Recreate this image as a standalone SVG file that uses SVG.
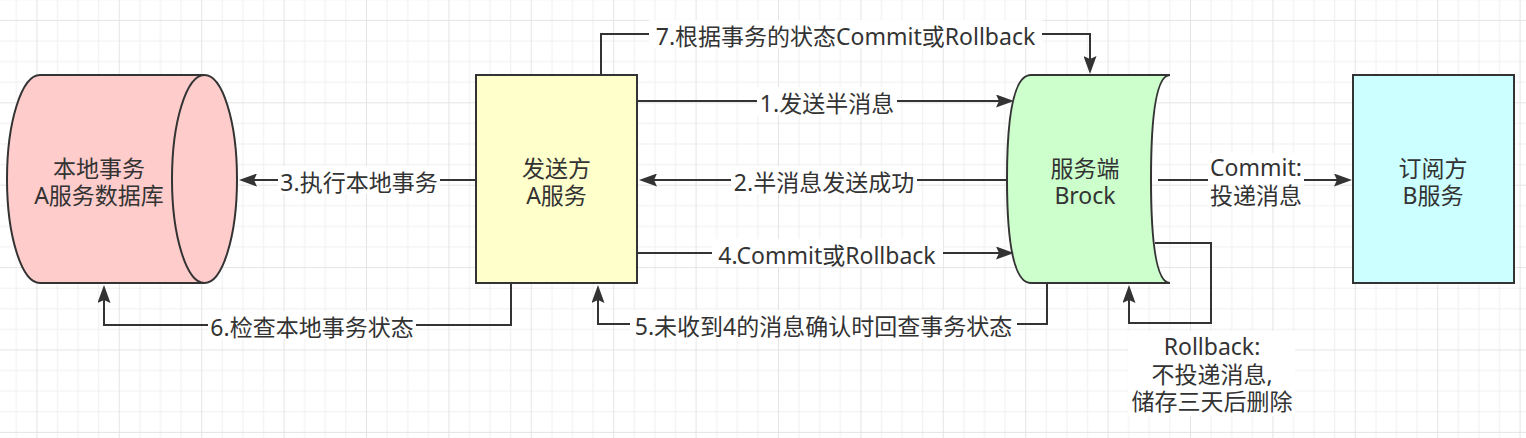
<svg xmlns="http://www.w3.org/2000/svg" width="1526" height="438" viewBox="0 0 1526 438">
<style>
.shape{stroke:#333333;stroke-width:2;}
.edge{fill:none;stroke:#333333;stroke-width:2;}
.lbl{fill:#ffffff;stroke:none;}
text{font-family:"Noto Sans","Noto Sans CJK SC",sans-serif;font-size:23px;fill:#333333;text-anchor:middle;}
</style>
<defs>
<pattern id="grid" patternUnits="userSpaceOnUse" x="36.4" y="19.9" width="82.4" height="82.4">
<path d="M21.1,0V82.4M41.7,0V82.4M62.3,0V82.4M0,21.1H82.4M0,41.7H82.4M0,62.3H82.4" stroke="#f0f0f0" stroke-width="1" fill="none"/>
<path d="M0.5,0V82.4M0,0.5H82.4" stroke="#e4e4e4" stroke-width="1" fill="none"/>
</pattern>
<marker id="arr" markerUnits="userSpaceOnUse" markerWidth="18" markerHeight="13" refX="8" refY="6.5" orient="auto">
<path d="M0,0 L18,6.5 L0,13 L3,6.5 Z" fill="#333333"/>
</marker>
</defs>
<rect width="1526" height="438" fill="#ffffff"/>
<rect width="1526" height="438" fill="url(#grid)"/>

<g id="node-db">
<path class="shape" fill="#ffcccc" d="M40,75 H204.5 A32.5,104 0 0 1 204.5,283 H40 A33,104 0 0 1 40,75 Z"/>
<path class="shape" fill="none" d="M204.5,75 A32.5,104 0 0 0 204.5,283"/>
<text x="99" y="176.5">本地事务</text>
<text x="99" y="204">A服务数据库</text>
</g>

<g id="node-sender">
<rect class="shape" fill="#ffffcc" x="476" y="75" width="161" height="208"/>
<text x="556.5" y="176.5">发送方</text>
<text x="556.5" y="204">A服务</text>
</g>

<g id="node-broker">
<path class="shape" fill="#ccffcc" d="M1031,75 H1170 Q1151,75 1151,179 Q1151,283 1170,283 H1031 Q1007,283 1007,179 Q1007,75 1031,75 Z"/>
<text x="1085" y="176.5">服务端</text>
<text x="1085" y="204">Brock</text>
</g>

<g id="node-subscriber">
<rect class="shape" fill="#ccffff" x="1353" y="75" width="161" height="208"/>
<text x="1433" y="176.5">订阅方</text>
<text x="1433" y="204">B服务</text>
</g>

<g id="connectors">
<path class="edge" marker-end="url(#arr)" d="M637,101 H1004"/>
<path class="edge" marker-end="url(#arr)" d="M1007,180 H649"/>
<path class="edge" marker-end="url(#arr)" d="M476,180 H249"/>
<path class="edge" marker-end="url(#arr)" d="M637,253 H1004"/>
<path class="edge" marker-end="url(#arr)" d="M1047,283 V324 H598 V295"/>
<path class="edge" marker-end="url(#arr)" d="M511,283 V325 H104 V295"/>
<path class="edge" marker-end="url(#arr)" d="M601,75 V34 H1090 V64"/>
<path class="edge" marker-end="url(#arr)" d="M1158,180 H1342"/>
<path class="edge" marker-end="url(#arr)" d="M1155,243 H1211 V323 H1129 V295"/>

<rect class="lbl" x="757" y="87" width="140" height="28"/>
<text x="827" y="111.5">1.发送半消息</text>
<rect class="lbl" x="731" y="166" width="186" height="28"/>
<text x="824" y="190.5">2.半消息发送成功</text>
<rect class="lbl" x="278" y="166" width="162" height="28"/>
<text x="359" y="190.5">3.执行本地事务</text>
<rect class="lbl" x="712" y="239" width="231" height="28"/>
<text x="827" y="263.5">4.Commit或Rollback</text>
<rect class="lbl" x="630" y="310" width="387" height="28"/>
<text x="823.5" y="334.5">5.未收到4的消息确认时回查事务状态</text>
<rect class="lbl" x="208" y="311" width="208" height="28"/>
<text x="312" y="335.5">6.检查本地事务状态</text>
<rect class="lbl" x="649" y="20" width="393" height="28"/>
<text x="845.5" y="44.5">7.根据事务的状态Commit或Rollback</text>
<rect class="lbl" x="1208" y="153" width="96" height="55"/>
<text x="1256" y="176">Commit:</text>
<text x="1256" y="203.5">投递消息</text>
<rect class="lbl" x="1128" y="331" width="167" height="85"/>
<text x="1212" y="355">Rollback:</text>
<text x="1212" y="382.5">不投递消息,</text>
<text x="1212" y="410">储存三天后删除</text>
</g>
</svg>
